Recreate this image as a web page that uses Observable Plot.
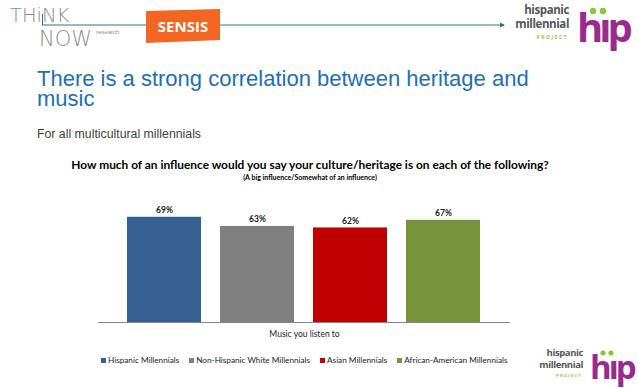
<!DOCTYPE html>
<html>
<head>
<meta charset="utf-8">
<script src="https://cdn.jsdelivr.net/npm/d3@7"></script>
<script src="https://cdn.jsdelivr.net/npm/@observablehq/plot@0.6"></script>
<style>
  html, body { margin: 0; padding: 0; background: #fff; }
  #page { position: relative; width: 638px; height: 388px; overflow: hidden; background: #fff; }
  .abs { position: absolute; }
  #title { left: 37px; top: 69px; font-family: "Liberation Sans", Arial, sans-serif; font-size: 22px; line-height: 20px; color: #1d6fb5; width: 520px; }
  #subtitle { left: 37px; top: 127px; font-family: "Liberation Sans", Arial, sans-serif; font-size: 12.3px; color: #404040; }
  #ctitle { left: 0; width: 620px; top: 157px; text-align: center; font-family: Lato, "Open Sans", sans-serif; font-weight: bold; font-size: 11.9px; color: #000; }
  #csub { left: 0; width: 620px; top: 173px; text-align: center; font-family: Lato, "Open Sans", sans-serif; font-weight: bold; font-size: 7px; color: #000; }
  #chart { left: 0; top: 195px; }
  #legend { left: 101px; top: 355px; display: flex; gap: 10px; font-family: Lato, "Open Sans", sans-serif; font-size: 8.2px; color: #222; white-space: nowrap; }
  #legend .item { display: flex; align-items: center; gap: 2px; }
  #legend .sw { width: 5px; height: 5px; display: inline-block; }
</style>
</head>
<body>
<div id="page">
  <!-- header decorations -->
  <svg class="abs" style="left:0;top:0" width="638" height="60">
    <defs>
      <marker id="arr" viewBox="0 0 10 10" refX="8" refY="5" markerWidth="5" markerHeight="5" orient="auto">
        <path d="M0,0 L10,5 L0,10 z" fill="#2e6da4"/>
      </marker>
    </defs>
    <line x1="42" y1="25" x2="504" y2="25" stroke="#2e6da4" stroke-width="1" marker-end="url(#arr)"/>
    <line x1="42.5" y1="14" x2="42.5" y2="25" stroke="#2e6da4" stroke-width="1"/>
    <text x="10" y="21.5" font-family="'DejaVu Sans', sans-serif" font-size="19.5" font-weight="200" fill="#8c8c8c">THiNK</text>
    <text x="39" y="46" font-family="'DejaVu Sans', sans-serif" font-size="21" font-weight="200" fill="#8c8c8c">NOW</text>
    <text x="96" y="34" font-family="'Liberation Sans', sans-serif" font-size="6" fill="#8c8c8c">research</text>
    <path d="M146,11 L220,9 L220,40 L146,43 Z" fill="#f26522"/>
    <text x="183" y="32" text-anchor="middle" font-family="'Open Sans', sans-serif" font-weight="bold" font-size="15" fill="#fff">SENSIS</text>
    <g transform="translate(507,0)">
      <text x="62" y="14" text-anchor="end" font-family="'Open Sans', sans-serif" font-weight="bold" font-size="11.5" fill="#555" style="letter-spacing:-0.4px">hispanic</text>
      <text x="62" y="28" text-anchor="end" font-family="'Open Sans', sans-serif" font-weight="bold" font-size="11.5" fill="#555" style="letter-spacing:-0.4px">millennial</text>
      <text x="61" y="39" text-anchor="end" font-family="'Open Sans', sans-serif" font-weight="bold" font-size="5" fill="#8cc63f" style="letter-spacing:1.5px">PROJECT</text>
      <text x="70" y="42" font-family="'Open Sans', sans-serif" font-weight="bold" font-size="40" fill="#9b2a8f" style="letter-spacing:-4px">hıp</text>
      <circle cx="86" cy="11" r="3.2" fill="#8cc63f"/>
      <circle cx="96" cy="11" r="3.2" fill="#8cc63f"/>
    </g>
  </svg>
  <div id="title" class="abs">There is a strong correlation between heritage and music</div>
  <div id="subtitle" class="abs">For all multicultural millennials</div>
  <div id="ctitle" class="abs">How much of an influence would you say your culture/heritage is on each of the following?</div>
  <div id="csub" class="abs">(A big influence/Somewhat of an influence)</div>
  <div id="chart" class="abs"></div>
  <div id="legend" class="abs"></div>
  <svg class="abs" style="left:530px;top:343px" width="108" height="45">
    <text x="53" y="13" text-anchor="end" font-family="'Open Sans', sans-serif" font-weight="bold" font-size="9.5" fill="#555" style="letter-spacing:-0.4px">hispanic</text>
    <text x="53" y="25" text-anchor="end" font-family="'Open Sans', sans-serif" font-weight="bold" font-size="9.5" fill="#555" style="letter-spacing:-0.4px">millennial</text>
    <text x="52" y="33.5" text-anchor="end" font-family="'Open Sans', sans-serif" font-weight="bold" font-size="4.2" fill="#8cc63f" style="letter-spacing:1.2px">PROJECT</text>
    <text x="60" y="36" font-family="'Open Sans', sans-serif" font-weight="bold" font-size="33" fill="#9b2a8f" style="letter-spacing:-3px">hıp</text>
    <circle cx="73" cy="10" r="2.6" fill="#8cc63f"/>
    <circle cx="81" cy="10" r="2.6" fill="#8cc63f"/>
  </svg>
</div>
<script>
const categories = ["Music you listen to"];
const series = ["Hispanic Millennials", "Non-Hispanic White Millennials", "Asian Millennials", "African-American Millennials"];
const values = [69, 63, 62, 67];
const colors = ["#376092", "#808080", "#c00000", "#77933c"];

const data = series.map((s, i) => ({category: categories[0], series: s, value: values[i]}));

const chart = Plot.plot({
  width: 638,
  height: 150,
  marginLeft: 98,
  marginRight: 128,
  marginTop: 5,
  marginBottom: 23,
  style: {fontFamily: "Lato, 'Open Sans', sans-serif", background: "transparent"},
  fx: {domain: categories, padding: 0, label: null},
  x: {domain: series, axis: null, paddingInner: 0.2, paddingOuter: 0.3},
  y: {domain: [0, 80], axis: null},
  color: {domain: series, range: colors},
  marks: [
    Plot.barY(data, {fx: "category", x: "series", y: "value", fill: "series"}),
    Plot.ruleY([0], {stroke: "#868686", strokeWidth: 1}),
    Plot.text(data, {fx: "category", x: "series", y: "value", text: d => d.value + "%", dy: -7, fontWeight: "bold", fontSize: 8.5, fill: "#222"}),
    Plot.axisFx({anchor: "bottom", tickSize: 0, tickPadding: 8, fontSize: 8.5, label: null, fill: "#222"})
  ]
});
document.getElementById("chart").appendChild(chart);

const legend = document.getElementById("legend");
series.forEach((s, i) => {
  const item = document.createElement("div");
  item.className = "item";
  const sw = document.createElement("span");
  sw.className = "sw";
  sw.style.background = colors[i];
  const t = document.createElement("span");
  t.textContent = s;
  item.appendChild(sw);
  item.appendChild(t);
  legend.appendChild(item);
});
</script>
</body>
</html>
